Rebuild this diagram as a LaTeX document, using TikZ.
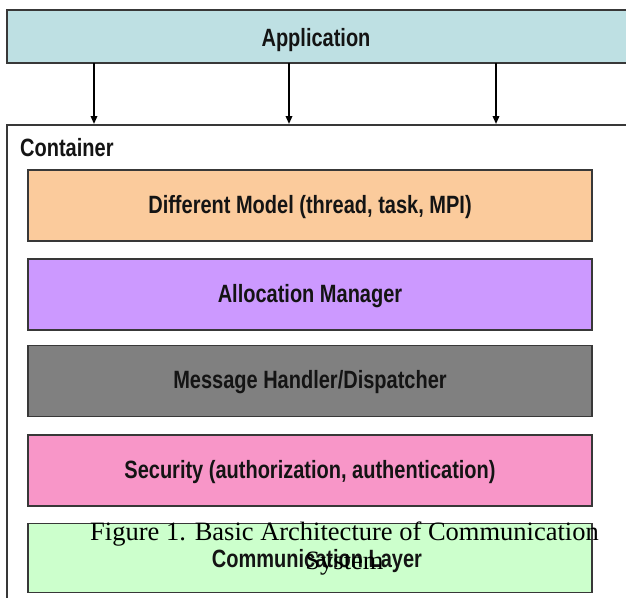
\documentclass[tikz,border=0pt]{standalone}
\usepackage{fontspec}
\setmainfont{Liberation Serif}
\newfontfamily\narrow[FakeStretch=0.80]{Liberation Sans}
\usetikzlibrary{arrows.meta}
\definecolor{appc}{HTML}{BEE0E3}
\definecolor{orangec}{HTML}{FBCB9C}
\definecolor{purplec}{HTML}{CC99FF}
\definecolor{grayc}{HTML}{808080}
\definecolor{pinkc}{HTML}{F896C8}
\definecolor{greenc}{HTML}{CCFFCC}
\definecolor{edgec}{HTML}{383838}
\definecolor{textc}{HTML}{141414}
\tikzset{
  layer/.style={draw=edgec, line width=1.3pt, minimum width=564pt, minimum height=71pt, inner sep=0pt,
    text height=15pt, text depth=0pt, text=textc, font=\narrow\bfseries\fontsize{25}{27}\selectfont},
  lbl/.style={inner sep=0pt, anchor=base, text=textc, font=\narrow\bfseries\fontsize{25}{27}\selectfont},
  down/.style={-{Triangle[length=8pt,width=6.5pt]}, line width=1.8pt},
  captxt/.style={font=\fontsize{26.5}{30}\selectfont, inner sep=0pt, anchor=base},
}
\begin{document}
\begin{tikzpicture}[x=1pt,y=-1pt]
\useasboundingbox (0,0) rectangle (626,597);
\fill[white] (0,0) rectangle (626,597);
% application
\draw[edgec, line width=1.3pt, fill=appc] (7,10) rectangle (640,63);
\node[lbl] (app) at (316,46) {Application};
% container
\draw[edgec, line width=1.3pt] (640,125) -- (7,125) -- (7,610);
\node[lbl, anchor=base west] (cont) at (20,156) {Container};
\coordinate (t1) at (94,124);
\coordinate (t2) at (289,124);
\coordinate (t3) at (496,124);
\coordinate (s1) at (94,63);
\coordinate (s2) at (289,63);
\coordinate (s3) at (496,63);
\draw[down] (s1) -- (t1);
\draw[down] (s2) -- (t2);
\draw[down] (s3) -- (t3);
% layers
\node[layer, fill=orangec] (model) at (310,205.5) {Different Model (thread, task, MPI)};
\node[layer, fill=purplec] (alloc) at (310,294.5) {Allocation Manager};
\node[layer, fill=grayc] (msg) at (310,381) {Message Handler/Dispatcher};
\node[layer, fill=pinkc] (sec) at (310,470.5) {Security (authorization, authentication)};
\node[layer, fill=greenc, minimum height=69pt] (comm) at (310,558) {};
\node[lbl] (commlbl) at (317,567) {Communication Layer};
% caption
\node[captxt] (cap1) at (344.5,540) {Figure 1. Basic Architecture of Communication};
\node[captxt] (cap2) at (344.5,569) {System};
\end{tikzpicture}
\end{document}
